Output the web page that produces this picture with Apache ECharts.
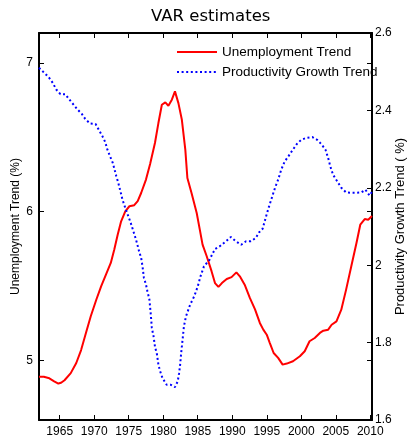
<!DOCTYPE html>
<html>
<head>
<meta charset="utf-8">
<script src="https://cdn.jsdelivr.net/npm/echarts@6/dist/echarts.min.js"></script>
<style>
  html, body { margin: 0; padding: 0; background: #fff; }
  #chart { width: 409px; height: 440px; }
</style>
</head>
<body>
<div id="chart"></div>
<script>
// Unemployment trend (%), left axis
const unempYears = [
  1962.0, 1962.7, 1963.5, 1964.2, 1964.8, 1965.2, 1965.7, 1966.6, 1967.4, 1968.1,
  1968.8, 1969.5, 1970.3, 1971.0, 1971.7, 1972.4, 1972.9, 1973.4, 1973.9, 1974.5,
  1975.1, 1975.8, 1976.3, 1976.8, 1977.5, 1978.1, 1978.8, 1979.3, 1979.8, 1980.3,
  1980.75, 1981.25, 1981.7, 1982.2, 1982.7, 1983.2, 1983.5, 1984.1, 1984.85, 1985.3,
  1985.7, 1986.3, 1987.0, 1987.5, 1988.0, 1988.5, 1989.2, 1989.9, 1990.6, 1991.1,
  1991.8, 1992.55, 1993.3, 1994.0, 1994.5, 1995.0, 1995.45, 1996.0, 1996.65, 1997.3,
  1997.9, 1998.8, 1999.8, 2000.5, 2001.2, 2001.95, 2002.7, 2003.2, 2003.9, 2004.4,
  2005.1, 2005.8, 2006.5, 2007.25, 2008.0, 2008.55, 2009.2, 2009.7, 2010.25
];
const unempValues = [
  4.89, 4.89, 4.88, 4.86, 4.845, 4.85, 4.867, 4.915, 4.983, 5.07,
  5.185, 5.297, 5.408, 5.498, 5.576, 5.655, 5.744, 5.845, 5.935, 6.002,
  6.036, 6.043, 6.07, 6.125, 6.215, 6.32, 6.461, 6.595, 6.718, 6.734,
  6.711, 6.752, 6.808, 6.729, 6.617, 6.416, 6.226, 6.125, 5.991, 5.879,
  5.778, 5.70, 5.60, 5.52, 5.494, 5.52, 5.547, 5.56, 5.592, 5.565,
  5.509, 5.42, 5.343, 5.252, 5.207, 5.173, 5.117, 5.05, 5.017, 4.972,
  4.979, 4.995, 5.028, 5.062, 5.129, 5.151, 5.185, 5.20, 5.207, 5.24,
  5.263, 5.341, 5.476, 5.633, 5.789, 5.912, 5.95, 5.946, 5.97
];

// Productivity growth trend (%), right axis
const prodYears = [
  1962.0, 1962.3, 1963.4, 1964.0, 1964.5, 1965.1, 1965.8, 1966.4, 1967.0, 1967.6,
  1968.2, 1968.7, 1969.4, 1970.2, 1970.7, 1971.2, 1971.6, 1971.9, 1972.3, 1972.7,
  1972.95, 1973.2, 1973.5, 1973.8, 1974.1, 1974.6, 1975.3, 1975.9, 1976.2, 1976.5,
  1976.8, 1977.0, 1977.2, 1977.5, 1977.7, 1978.0, 1978.2, 1978.35, 1978.6, 1978.8,
  1979.1, 1979.3, 1979.55, 1979.9, 1980.5, 1981.1, 1981.7, 1982.1, 1982.3, 1982.45,
  1982.6, 1982.8, 1983.0, 1983.3, 1983.9, 1984.5, 1985.0, 1985.4, 1985.9, 1986.7,
  1987.5, 1988.2, 1989.1, 1989.8, 1990.5, 1991.3, 1992.0, 1992.7, 1993.4, 1993.9,
  1994.4, 1994.9, 1995.3, 1995.8, 1996.2, 1996.65, 1997.1, 1997.6, 1998.2, 1998.8,
  1999.4, 2000.0, 2000.75, 2001.6, 2002.3, 2002.9, 2003.5, 2003.9, 2004.2, 2004.6,
  2005.2, 2005.8, 2006.5, 2007.25, 2008.0, 2008.7, 2009.3, 2009.9, 2010.25
];
const prodValues = [
  2.51, 2.505, 2.486, 2.471, 2.454, 2.442, 2.442, 2.428, 2.415, 2.402,
  2.391, 2.378, 2.366, 2.365, 2.349, 2.333, 2.318, 2.299, 2.281, 2.264,
  2.247, 2.23, 2.212, 2.191, 2.169, 2.143, 2.109, 2.075, 2.057, 2.036,
  2.019, 1.997, 1.967, 1.95, 1.933, 1.911, 1.872, 1.838, 1.816, 1.79,
  1.769, 1.743, 1.726, 1.708, 1.691, 1.691, 1.685, 1.70, 1.721, 1.743,
  1.773, 1.807, 1.842, 1.868, 1.898, 1.92, 1.945, 1.971, 1.997, 2.014,
  2.042, 2.049, 2.062, 2.073, 2.062, 2.053, 2.062, 2.062, 2.07, 2.085,
  2.094, 2.126, 2.15, 2.178, 2.20, 2.221, 2.247, 2.268, 2.283, 2.299,
  2.314, 2.324, 2.329, 2.331, 2.324, 2.313, 2.299, 2.277, 2.256, 2.234,
  2.217, 2.20, 2.188, 2.187, 2.187, 2.188, 2.195, 2.18, 2.19
];

// Tick positions
const yearTicks = [1965, 1970, 1975, 1980, 1985, 1990, 1995, 2000, 2005, 2010];
const unempTicks = [5, 6, 7];

const seriesNames = ['Unemployment Trend', 'Productivity Growth Trend'];

const zip = (xs, ys) => xs.map((x, i) => [x, ys[i]]);

const FONT = 'Liberation Sans';
const frame = { show: true, lineStyle: { color: '#000', width: 2 } };
const innerTick = (vals) => ({
  show: true, inside: true, length: 5,
  lineStyle: { color: '#000', width: 1 },
  ...(vals ? { customValues: vals } : {})
});

const chart = echarts.init(document.getElementById('chart'), null, { renderer: 'canvas' });

chart.setOption({
  animation: false,
  backgroundColor: '#fff',
  title: {
    text: 'VAR estimates',
    left: 151, top: 8, padding: 0,
    textStyle: { fontFamily: 'DejaVu Sans', fontSize: 16.5, fontWeight: 'normal', color: '#000' }
  },
  legend: {
    orient: 'vertical',
    left: 171, top: 40,
    itemWidth: 40, itemHeight: 14, itemGap: 6,
    itemStyle: { opacity: 0 },
    textStyle: { fontFamily: FONT, fontSize: 13.5, color: '#000' },
    data: seriesNames
  },
  grid: {
    left: 39, right: 37, top: 33, bottom: 20,
    containLabel: false, outerBoundsMode: 'none'
  },
  xAxis: [
    {
      type: 'value', position: 'bottom', min: 1962, max: 2010.25,
      axisLine: frame, splitLine: { show: false },
      axisTick: innerTick(yearTicks),
      axisLabel: {
        customValues: yearTicks, margin: 6,
        fontFamily: FONT, fontSize: 12, color: '#000',
        formatter: (v) => String(v)
      }
    },
    {
      type: 'value', position: 'top', min: 1962, max: 2010.25,
      axisLine: frame, splitLine: { show: false },
      axisTick: innerTick(yearTicks),
      axisLabel: { show: false }
    }
  ],
  yAxis: [
    {
      type: 'value', position: 'left', min: 4.6, max: 7.2,
      name: 'Unemployment Trend (%)', nameLocation: 'middle', nameGap: 17,
      nameMoveOverlap: false,
      nameTextStyle: { fontFamily: FONT, fontSize: 12, color: '#000' },
      axisLine: frame, splitLine: { show: false },
      axisTick: innerTick(unempTicks),
      axisLabel: {
        customValues: unempTicks, margin: 6,
        fontFamily: FONT, fontSize: 12, color: '#000',
        formatter: (v) => String(v)
      }
    },
    {
      type: 'value', position: 'right', min: 1.6, max: 2.6, interval: 0.2,
      name: 'Productivity Growth Trend ( %)', nameLocation: 'middle', nameGap: 22,
      nameMoveOverlap: false,
      nameTextStyle: { fontFamily: FONT, fontSize: 13, color: '#000' },
      axisLine: frame, splitLine: { show: false },
      axisTick: innerTick(null),
      axisLabel: { margin: 3, fontFamily: FONT, fontSize: 12, color: '#000' }
    },
    {
      // left-axis ticks repeated on the right edge of the box
      type: 'value', position: 'right', min: 4.6, max: 7.2,
      axisLine: { show: false }, splitLine: { show: false },
      axisTick: innerTick(unempTicks),
      axisLabel: { show: false }
    }
  ],
  series: [
    {
      name: seriesNames[0], type: 'line', xAxisIndex: 0, yAxisIndex: 0,
      data: zip(unempYears, unempValues),
      symbol: 'none', showSymbol: false,
      lineStyle: { color: '#ff0000', width: 2 },
      itemStyle: { color: '#ff0000' }
    },
    {
      name: seriesNames[1], type: 'line', xAxisIndex: 0, yAxisIndex: 1,
      data: zip(prodYears, prodValues),
      symbol: 'none', showSymbol: false,
      lineStyle: { color: '#0000ff', width: 2, type: [2, 2.6], cap: 'butt' },
      itemStyle: { color: '#0000ff' }
    }
  ]
});
</script>
</body>
</html>
